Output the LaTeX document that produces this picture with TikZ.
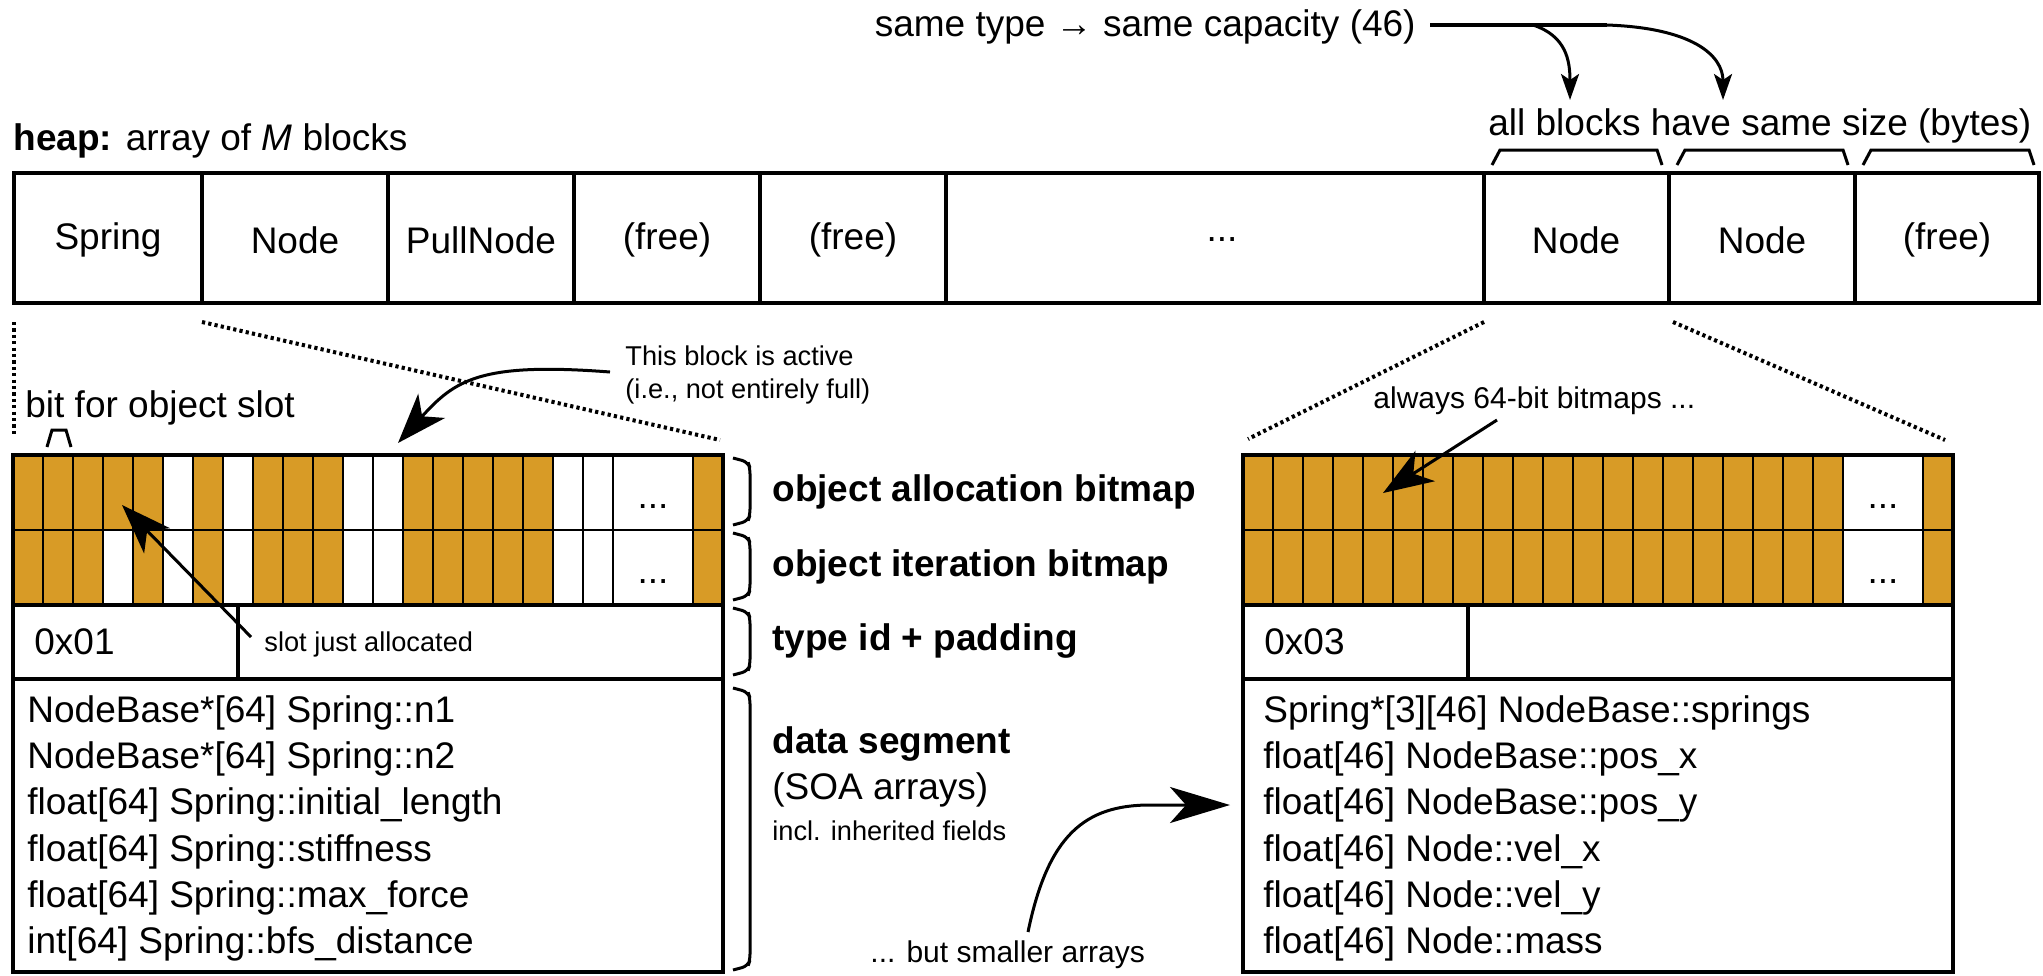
\documentclass[tikz,border=0pt]{standalone}
\usepackage{fontspec}
\setmainfont{Liberation Sans}
\usetikzlibrary{arrows.meta}
\definecolor{bitorange}{RGB}{216,155,38}
\colorlet{O}{bitorange}
\colorlet{W}{white}
\tikzset{
  txtbig/.style={font=\fontsize{18.5}{22}\selectfont, inner sep=0pt},
  txtbold/.style={font=\fontsize{18.5}{22}\selectfont\bfseries, inner sep=0pt},
  txtsmall/.style={font=\fontsize{13.6}{16}\selectfont, inner sep=0pt},
  txtmed/.style={font=\fontsize{15}{18}\selectfont, inner sep=0pt},
  boxline/.style={line width=1.8pt},
  cellline/.style={line width=1.2pt},
  dotline/.style={line width=2pt, dash pattern=on 1.6pt off 1.6pt},
  bigarrow/.style={line width=1.5pt, -{Stealth[length=25pt,width=18pt,inset=7pt]}},
  smallarrow/.style={line width=1.5pt, -{Stealth[length=13pt,width=9pt,inset=3pt]}},
  bracketline/.style={line width=1.5pt},
  braceline/.style={line width=1.5pt, rounded corners=3pt},
}
\begin{document}
\begin{tikzpicture}[x=0.5pt,y=-0.5pt]
\useasboundingbox (0,0) rectangle (2043,975);

% ---------- heap ----------
\node[txtbig, anchor=base west] (heaplabel) at (13,150) {\textbf{heap:} array of \textit{M} blocks};
\draw[boxline] (14,173) rectangle (2039,303);
\foreach \x in {202,388,574,760,946,1484,1669,1855}
  \draw[boxline] (\x,173) -- (\x,303);
\node[txtbig] (hb1) at (108,240) {Spring};
\node[txtbig] (hb2) at (295,240) {Node};
\node[txtbig] (hb3) at (481,240) {PullNode};
\node[txtbig] (hb4) at (667,240) {(free)};
\node[txtbig] (hb5) at (853,240) {(free)};
\node[txtbig] (hb6) at (1222,240) {...};
\node[txtbig] (hb7) at (1576,240) {Node};
\node[txtbig] (hb8) at (1762,240) {Node};
\node[txtbig] (hb9) at (1947,240) {(free)};

% brackets above heap
\draw[bracketline] (1492,165) -- (1500,150) -- (1657,150) -- (1662,165);
\draw[bracketline] (1677,165) -- (1685,150) -- (1843,150) -- (1848,165);
\draw[bracketline] (1863,165) -- (1871,150) -- (2029,150) -- (2034,165);
\node[txtbig, anchor=base west] (sizelabel) at (1488,135) {all blocks have same size (bytes)};

% same type -> same capacity
\node[txtbig, anchor=east] (caplabel) at (1416,27) {same type → same capacity (46)};
\coordinate (capsplit) at (1533,25);
\coordinate (capbend) at (1607,25);
\coordinate (captip1) at (1570,100);
\coordinate (captip2) at (1723,100);
\draw[line width=1.7pt] (1430,25) -- (capbend);
\draw[smallarrow] (capsplit) .. controls (1566,36) and (1570,60) .. (captip1);
\draw[smallarrow] (capbend) .. controls (1692,28) and (1723,55) .. (captip2);

% ---------- zoom lines ----------
\coordinate (zl1a) at (14,322);  \coordinate (zl1b) at (14,436);
\coordinate (zl2a) at (202,322); \coordinate (zl2b) at (720,440);
\coordinate (zr1a) at (1484,322); \coordinate (zr1b) at (1248,439);
\coordinate (zr2a) at (1673,322); \coordinate (zr2b) at (1945,440);
\draw[dotline] (zl1a) -- (zl1b);
\draw[dotline] (zl2a) -- (zl2b);
\draw[dotline] (zr1a) -- (zr1b);
\draw[dotline] (zr2a) -- (zr2b);

% ---------- left block ----------
\foreach \c [count=\i from 0] in {O,O,O,O,O,W,O,W,O,O,O,W,W,O,O,O,O,O,W,W}
  \fill[\c] ({13+30*\i},455) rectangle ++(30,75);
\foreach \c [count=\i from 0] in {O,O,O,W,O,W,O,W,O,O,O,W,W,O,O,O,O,O,W,W}
  \fill[\c] ({13+30*\i},530) rectangle ++(30,75);
\fill[O] (693,455) rectangle (723,605);
\foreach \i in {1,...,20}
  \draw[cellline] ({13+30*\i},455) -- ({13+30*\i},605);
\draw[cellline] (693,455) -- (693,605);
\draw[cellline] (13,530) -- (723,530);
\draw[boxline] (13,605) -- (723,605);
\draw[boxline] (13,679) -- (723,679);
\draw[boxline] (238,605) -- (238,679);
\draw[boxline] (13,455) rectangle (723,972);
\node[txtbig, anchor=base] (ldots1) at (653,508) {...};
\node[txtbig, anchor=base] (ldots2) at (653,583) {...};
\node[txtbig, anchor=west] (ltype) at (34,642) {0x01};
\node[txtsmall, anchor=base west] (slotlabel) at (264,651) {slot just allocated};
\node[txtbig, anchor=base west] (ld1) at (27,722) {NodeBase*[64] Spring::n1};
\node[txtbig, anchor=base west] (ld2) at (27,768) {NodeBase*[64] Spring::n2};
\node[txtbig, anchor=base west] (ld3) at (27,814) {float[64] Spring::initial\_length};
\node[txtbig, anchor=base west] (ld4) at (27,861) {float[64] Spring::stiffness};
\node[txtbig, anchor=base west] (ld5) at (27,907) {float[64] Spring::max\_force};
\node[txtbig, anchor=base west] (ld6) at (27,953) {int[64] Spring::bfs\_distance};

% bit for object slot
\node[txtbig, anchor=base west] (bitlabel) at (25,417) {bit for object slot};
\draw[bracketline] (47,447) -- (52,430) -- (66,430) -- (71,447);

% ---------- right block ----------
\fill[O] (1243,455) rectangle (1843,605);
\fill[O] (1923,455) rectangle (1953,605);
\foreach \i in {1,...,20}
  \draw[cellline] ({1243+30*\i},455) -- ({1243+30*\i},605);
\draw[cellline] (1923,455) -- (1923,605);
\draw[cellline] (1243,530) -- (1953,530);
\draw[boxline] (1243,605) -- (1953,605);
\draw[boxline] (1243,679) -- (1953,679);
\draw[boxline] (1468,605) -- (1468,679);
\draw[boxline] (1243,455) rectangle (1953,972);
\node[txtbig, anchor=base] (rdots1) at (1883,508) {...};
\node[txtbig, anchor=base] (rdots2) at (1883,583) {...};
\node[txtbig, anchor=west] (rtype) at (1264,642) {0x03};
\node[txtbig, anchor=base west] (rd1) at (1263,722) {Spring*[3][46] NodeBase::springs};
\node[txtbig, anchor=base west] (rd2) at (1263,768) {float[46] NodeBase::pos\_x};
\node[txtbig, anchor=base west] (rd3) at (1263,814) {float[46] NodeBase::pos\_y};
\node[txtbig, anchor=base west] (rd4) at (1263,861) {float[46] Node::vel\_x};
\node[txtbig, anchor=base west] (rd5) at (1263,907) {float[46] Node::vel\_y};
\node[txtbig, anchor=base west] (rd6) at (1263,953) {float[46] Node::mass};

% ---------- braces and middle labels ----------
\foreach \a/\b in {458/525, 533/600, 608/675, 688/970}
  \draw[braceline] (733,\a) -- (748,{\a+4}) -- (750,{\a+10}) -- (750,{\b-10}) -- (748,{\b-4}) -- (733,\b);
\node[txtbold, anchor=west] (allocl) at (772,492) {object allocation bitmap};
\node[txtbold, anchor=west] (iterl) at (772,567) {object iteration bitmap};
\node[txtbold, anchor=west] (typel) at (772,641) {type id + padding};
\node[txtbold, anchor=base west] (datal) at (772,753) {data segment};
\node[txtbig, anchor=base west] (soal) at (772,799) {(SOA arrays)};
\node[txtsmall, anchor=base west] (inhl) at (772,840) {incl. inherited fields};

% ---------- annotations ----------
\node[txtsmall, anchor=base west] (act1) at (625,365) {This block is active};
\node[txtsmall, anchor=base west] (act2) at (625,398) {(i.e., not entirely full)};
\coordinate (actstart) at (610,372);
\coordinate (acttip) at (398,443);
\draw[bigarrow] (actstart) .. controls (480,362) and (455,380) .. (acttip);

\coordinate (slotstart) at (251,637);
\coordinate (slottip) at (122,505);
\draw[bigarrow] (slotstart) -- (slottip);

\node[txtmed, anchor=base west] (alwayslabel) at (1373,408) {always 64-bit bitmaps ...};
\coordinate (alwstart) at (1497,420);
\coordinate (alwtip) at (1383,493);
\draw[bigarrow] (alwstart) -- (alwtip);

\node[txtmed, anchor=base west] (smallerlabel) at (870,962) {... but smaller arrays};
\coordinate (smlstart) at (1028,932);
\coordinate (smltip) at (1230,805);
\draw[line width=1.5pt, -{Stealth[length=30pt,width=18pt,inset=8pt]}] (smlstart) .. controls (1048,835) and (1085,805) .. (1150,805) -- (smltip);
\end{tikzpicture}
\end{document}
